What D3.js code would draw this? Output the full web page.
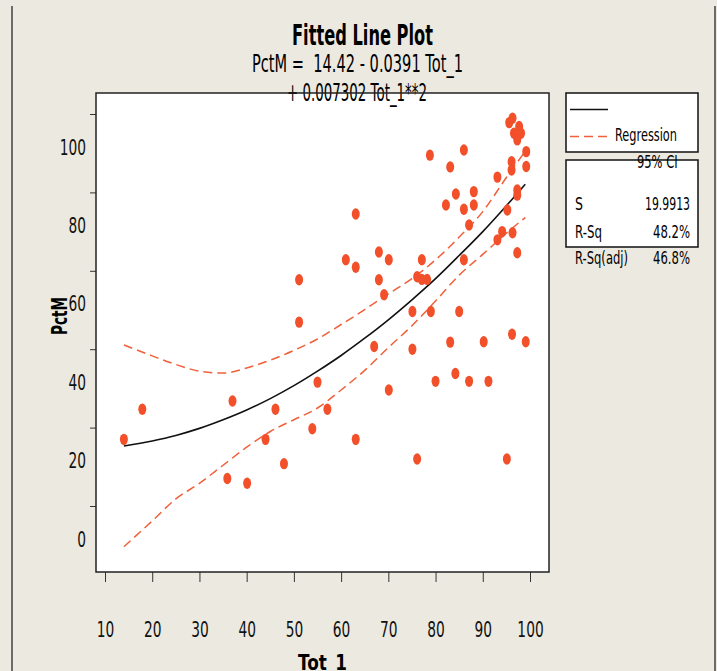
<!DOCTYPE html>
<html>
<head>
<meta charset="utf-8">
<script src="https://cdn.jsdelivr.net/npm/d3@7"></script>
<style>
  body { margin: 0; background: #ece9e0; }
  svg { display: block; font-family: "DejaVu Sans", sans-serif; }
</style>
</head>
<body>
<svg id="chart" width="717" height="671"></svg>
<script>
// observations (Tot_1, PctM)
var totVals = [14.0,17.9,37.0,35.9,40.1,44.0,46.1,47.9,51.1,51.1,
  53.9,55.0,57.1,61.0,63.1,63.1,63.1,67.0,68.0,68.0,
  69.1,70.1,70.1,75.1,75.1,76.1,76.1,77.1,77.1,78.2,
  79.0,78.8,80.0,82.2,83.1,83.1,84.3,84.2,85.0,86.0,
  86.0,86.0,87.1,87.1,88.1,88.1,90.2,91.2,93.1,93.1,
  94.1,95.2,95.1,95.6,96.3,96.6,97.7,98.1,97.3,99.2,
  99.2,96.1,96.1,97.3,97.3,96.2,99.1,96.3,97.3];
var pctVals = [17.0,24.7,26.8,7.0,5.8,17.0,24.7,10.8,57.7,46.9,
  19.7,31.6,24.7,62.8,74.5,60.9,17.0,40.7,64.8,57.7,
  53.9,62.8,29.6,49.6,40.0,12.0,58.5,62.8,57.8,57.8,
  49.6,89.5,31.8,76.8,41.8,86.5,79.6,33.8,49.6,90.8,
  75.7,62.8,71.7,31.8,80.2,76.8,41.9,31.8,83.9,67.9,
  70.0,75.5,12.0,97.8,98.9,95.1,96.8,95.1,93.4,90.4,
  86.6,87.8,85.7,80.6,79.3,43.8,41.9,69.7,64.6];

// fitted curve and 95% CI
var fitX    = [14,20,25,30,35,40,45,50,55,60,65,70,75,80,85,90,95,99];
var fitY    = [15.3,16.6,18.0,19.8,22.0,24.5,27.4,30.7,34.4,38.4,42.8,47.5,52.6,58.0,63.9,70.0,76.6,82.1];
var ciUpper = [41.1,38.3,36.1,34.4,33.9,35.2,37.2,39.7,42.6,46.3,50.1,54.1,58.0,62.8,68.6,75.1,83.8,90.5];
var ciLower = [-10.4,-3.8,1.8,5.8,10.4,15.0,19.0,22.0,25.0,29.6,34.6,40.4,46.0,52.3,58.9,64.2,69.6,73.6];

var xTicks = [10,20,30,40,50,60,70,80,90,100];
var yTicks = [0,20,40,60,80,100];

var statNames = ["S", "R-Sq", "R-Sq(adj)"];
var statVals = ["19.9913", "48.2%", "46.8%"];

var ptColor = "#f2502a",
    ciColor = "#f0603a";

var svg = d3.select("#chart");

var x = d3.scaleLinear().domain([10, 100]).range([105, 530]);
var y = d3.scaleLinear().domain([0, 100]).range([506, 114]);

// fixed width text (the original font is a narrow one)
function fitText(g, str, px, py, w, size, bold) {
  return g.append("text")
    .attr("x", px).attr("y", py)
    .attr("font-size", size)
    .attr("font-weight", bold ? "bold" : null)
    .attr("textLength", w)
    .attr("lengthAdjust", "spacingAndGlyphs")
    .style("white-space", "pre")
    .text(str);
}

// outer border lines
svg.append("line").attr("x1", 12).attr("x2", 12).attr("y1", 6).attr("y2", 671)
  .attr("stroke", "#6b6b6b").attr("stroke-width", 2);
svg.append("line").attr("x1", 715).attr("x2", 715).attr("y1", 6).attr("y2", 671)
  .attr("stroke", "#6b6b6b").attr("stroke-width", 2);

// plot area
svg.append("rect").attr("x", 96).attr("y", 93).attr("width", 453).attr("height", 479)
  .attr("fill", "#fff");

// titles
fitText(svg, "Fitted Line Plot", 292, 45, 141, 28, true);
fitText(svg, "PctM =  14.42 - 0.0391 Tot_1", 252, 72, 211, 24);
fitText(svg, "+ 0.007302 Tot_1**2", 287, 101, 140, 24);

// axes
var yAxis = svg.append("g")
  .attr("transform", "translate(96,0)")
  .call(d3.axisLeft(y).tickValues(yTicks).tickSize(6).tickSizeOuter(0));
yAxis.select(".domain").remove();
yAxis.attr("font-family", null).attr("font-size", null);
yAxis.selectAll(".tick line").attr("stroke", "#333");
yAxis.selectAll(".tick text").each(function() {
  var t = d3.select(this);
  t.attr("font-size", 21.5).attr("dy", null).attr("y", 40).attr("fill", "#111");
  var w = this.getComputedTextLength() * 0.64;
  t.attr("text-anchor", "start").attr("x", -10 - w)
    .attr("textLength", w).attr("lengthAdjust", "spacingAndGlyphs");
});

var xAxis = svg.append("g")
  .attr("transform", "translate(0,572)")
  .call(d3.axisBottom(x).tickValues(xTicks).tickSize(10).tickSizeOuter(0));
xAxis.select(".domain").remove();
xAxis.attr("font-family", null).attr("font-size", null);
xAxis.selectAll(".tick line").attr("stroke", "#333");
xAxis.selectAll(".tick text").each(function() {
  var t = d3.select(this);
  t.attr("font-size", 21.5).attr("dy", null).attr("y", 65).attr("fill", "#111");
  var w = this.getComputedTextLength() * 0.64;
  t.attr("text-anchor", "start").attr("x", -w / 2)
    .attr("textLength", w).attr("lengthAdjust", "spacingAndGlyphs");
});

// axis titles
fitText(svg, "Tot_1", 298, 670, 49, 22, true);
var yl = svg.append("g").attr("transform", "translate(67,335) rotate(-90)");
fitText(yl, "PctM", 0, 0, 38, 21, true);

// curves
var curve = function(vals) {
  return d3.line()
    .x(function(d, i) { return x(fitX[i]); })
    .y(function(d) { return y(d); })
    .curve(d3.curveMonotoneX)(vals);
};

svg.append("path").attr("d", curve(ciUpper)).attr("fill", "none")
  .attr("stroke", ciColor).attr("stroke-width", 1.5).attr("stroke-dasharray", "9,5");
svg.append("path").attr("d", curve(ciLower)).attr("fill", "none")
  .attr("stroke", ciColor).attr("stroke-width", 1.5).attr("stroke-dasharray", "9,5");
svg.append("path").attr("d", curve(fitY)).attr("fill", "none")
  .attr("stroke", "#111").attr("stroke-width", 1.6);

// points
svg.append("g").selectAll("ellipse")
  .data(totVals)
  .enter()
  .append("ellipse")
  .attr("cx", function(d) { return x(d); })
  .attr("cy", function(d, i) { return y(pctVals[i]); })
  .attr("rx", 4)
  .attr("ry", 5.7)
  .attr("fill", ptColor);

// frame on top
svg.append("rect").attr("x", 96).attr("y", 93).attr("width", 453).attr("height", 479)
  .attr("fill", "none").attr("stroke", "#222").attr("stroke-width", 1.5);

// legend
var leg = svg.append("g");
leg.append("rect").attr("x", 566).attr("y", 93).attr("width", 132).attr("height", 59)
  .attr("fill", "#fff").attr("stroke", "#111").attr("stroke-width", 1.5);
leg.append("line").attr("x1", 570).attr("x2", 608).attr("y1", 109.5).attr("y2", 109.5)
  .attr("stroke", "#111").attr("stroke-width", 1.6);
leg.append("line").attr("x1", 570).attr("x2", 608).attr("y1", 136.5).attr("y2", 136.5)
  .attr("stroke", ciColor).attr("stroke-width", 1.5).attr("stroke-dasharray", "9,5");
fitText(leg, "Regression", 615, 141, 62, 18);

leg.append("rect").attr("x", 566).attr("y", 160).attr("width", 132).attr("height", 87)
  .attr("fill", "#fff").attr("stroke", "#111").attr("stroke-width", 1.5);
fitText(leg, "95% CI", 637, 168, 40.6, 18);

var statY = [210, 238, 264];
var nameW = [8, 27, 53];
var valW = [45, 37, 37];
statNames.forEach(function(s, i) {
  fitText(leg, s, 575, statY[i], nameW[i], 18);
  fitText(leg, statVals[i], 690 - valW[i], statY[i], valW[i], 18);
});
</script>
</body>
</html>
